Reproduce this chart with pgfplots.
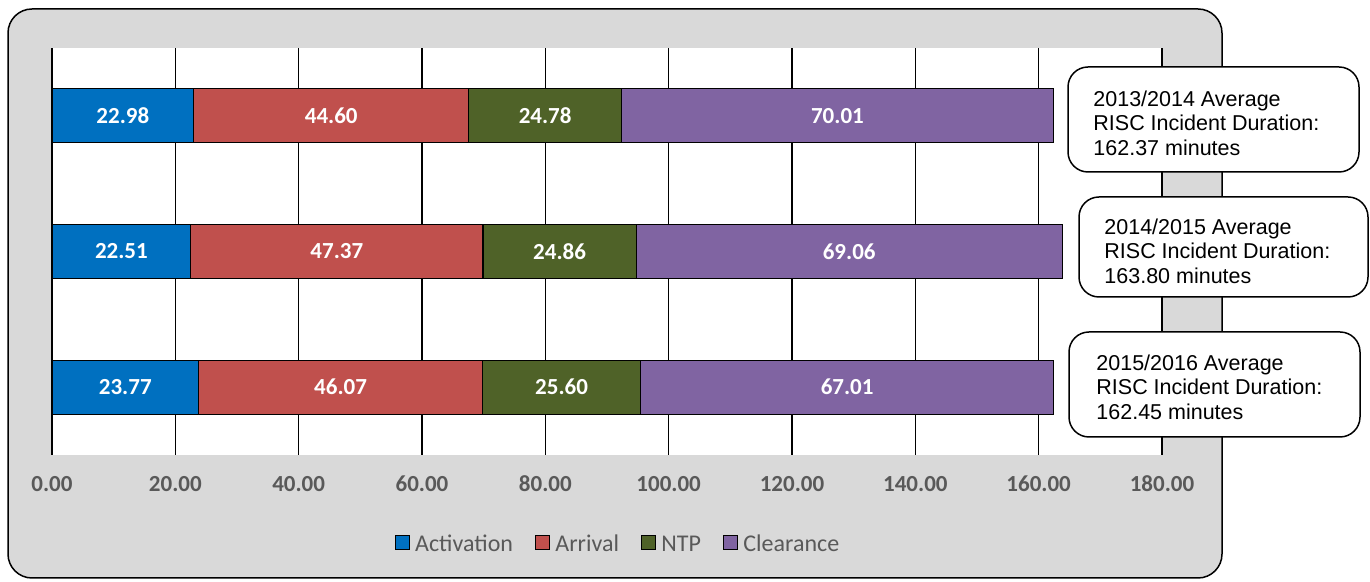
\documentclass[border=0pt]{standalone}
\usepackage{pgfplots}
\pgfplotsset{compat=1.18}
\usepackage{pgfplotstable}
\usepackage{fontspec}
\setmainfont{Carlito}
\newfontfamily\arialfont{Liberation Sans}
\definecolor{actc}{HTML}{0070C0}
\definecolor{arrc}{HTML}{C0504D}
\definecolor{ntpc}{HTML}{4F6228}
\definecolor{clrc}{HTML}{8064A2}
\definecolor{bggray}{HTML}{D9D9D9}
\definecolor{txtgray}{HTML}{595959}

% y: 0 = 2015/2016, 1 = 2014/2015, 2 = 2013/2014
\pgfplotstableread{
y v
0 23.77
1 22.51
2 22.98
}\activation
\pgfplotstableread{
y v
0 46.07
1 47.37
2 44.60
}\arrival
\pgfplotstableread{
y v
0 25.60
1 24.86
2 24.78
}\ntp
\pgfplotstableread{
y v
0 67.01
1 69.06
2 70.01
}\clearance

\begin{document}
\begin{tikzpicture}[x=1pt,y=1pt]
\path[use as bounding box] (0,0) rectangle (685,291);
\draw[fill=bggray, line width=0.75pt, rounded corners=12pt] (4,2) rectangle (611,286.5);
\begin{axis}[
  at={(26pt,63.5pt)}, anchor=south west,
  scale only axis, width=555pt, height=203.5pt,
  xbar stacked, bar width=27pt,
  xmin=0, xmax=180, ymin=-0.5, ymax=2.5,
  enlargelimits=false,
  axis background/.style={fill=white},
  separate axis lines,
  x axis line style={draw=none},
  y axis line style={draw=black, line width=0.75pt},
  ytick=\empty,
  xtick={0,20,...,180},
  xticklabels={0.00,20.00,40.00,60.00,80.00,100.00,120.00,140.00,160.00,180.00},
  major tick length=0pt,
  xticklabel style={font=\bfseries\fontsize{11.5}{13}\selectfont, text=txtgray, anchor=base, yshift=-18.5pt},
  xmajorgrids,
  major grid style={black, line width=0.75pt},
  point meta=explicit symbolic,
  nodes near coords={\pgfplotspointmeta},
  every node near coord/.append style={anchor=center, text=white, font=\bfseries\fontsize{11.5}{13}\selectfont},
  legend image code/.code={\draw[#1, draw=black, line width=0.6pt] (0pt,-2.1pt) rectangle (7pt,4.9pt); \path (7.6pt,1pt);},
  legend style={at={(0.5108,-0.2211)}, anchor=center, draw=none, fill=none,
    legend columns=4, font=\fontsize{12}{14}\selectfont, text=txtgray,
    /tikz/every even column/.append style={column sep=9pt}},
  legend cell align=left,
  clip=false,
]
\addplot[fill=actc, draw=black, line width=0.6pt] table[x=v, y=y, meta=v] {\activation};
\addplot[fill=arrc, draw=black, line width=0.6pt] table[x=v, y=y, meta=v] {\arrival};
\addplot[fill=ntpc, draw=black, line width=0.6pt] table[x=v, y=y, meta=v] {\ntp};
\addplot[fill=clrc, draw=black, line width=0.6pt] table[x=v, y=y, meta=v] {\clearance};
\legend{Activation, Arrival, NTP, Clearance}
\end{axis}
\tikzset{
  calloutbox/.style={draw=black, line width=0.75pt, fill=white, rounded corners=10pt, inner sep=0pt},
  callouttext/.style={inner sep=0pt, align=left, anchor=west,
    font=\arialfont\fontsize{10.75}{12.3}\selectfont}}
\node[calloutbox, minimum width=145.5pt, minimum height=52.5pt] at (606.75,231.25) {};
\node[callouttext] at (546.5,229.5) {2013/2014 Average\\RISC Incident Duration:\\162.37 minutes};
\node[calloutbox, minimum width=144.5pt, minimum height=50pt] at (611.75,167.5) {};
\node[callouttext] at (552,165.5) {2014/2015 Average\\RISC Incident Duration:\\163.80 minutes};
\node[calloutbox, minimum width=145.5pt, minimum height=52.5pt] at (607.25,98.75) {};
\node[callouttext] at (548,97.5) {2015/2016 Average\\RISC Incident Duration:\\162.45 minutes};
\end{tikzpicture}
\end{document}
